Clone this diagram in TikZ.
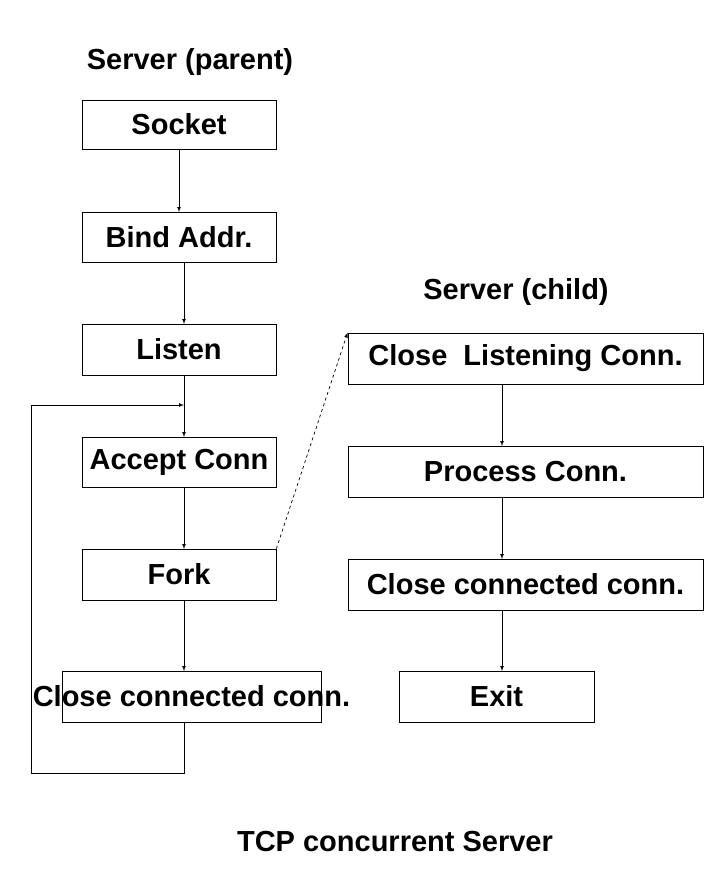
\documentclass[tikz,border=0pt]{standalone}
\usepackage{fontspec}
\setmainfont{Liberation Sans}
\begin{document}
\begin{tikzpicture}[x=1pt,y=-1pt,
  box/.style={draw,line width=0.8pt,inner sep=0pt},
  lbl/.style={font=\bfseries\fontsize{29}{32}\selectfont},
  arr/.style={-latex,line width=0.7pt}]
\useasboundingbox (0,0) rectangle (715,870);
\newcommand{\bx}[6]{\node[box,minimum width=#4-#2,minimum height=#5-#3] (#1) at ({(#2+#4)/2},{(#3+#5)/2}) {}; \node[lbl] (#1t) at (#1) {#6};}
\bx{s}{82}{100}{276}{149}{Socket}
\bx{b}{82}{212}{276}{262}{Bind Addr.}
\bx{l}{82}{324}{276}{375}{Listen}
\bx{a}{82}{437}{276}{487}{Accept Conn}
\bx{f}{82}{549}{276}{600}{Fork}
\bx{c}{62}{671}{321}{722}{Close connected conn.}
\bx{cl}{348}{333}{703}{384}{Close\ \ Listening Conn.}
\bx{p}{348}{446}{703}{497}{Process Conn.}
\bx{cc}{348}{559}{703}{610}{Close connected conn.}
\bx{e}{399}{671}{594}{722}{Exit}
\node[lbl] (t1) at (190,62) {Server (parent)};
\node[lbl] (t2) at (516,292) {Server (child)};
\node[lbl] (t3) at (395,842) {TCP concurrent Server};
\draw[arr] (179,149) -- (179,212);
\draw[arr] (184,262) -- (184,324);
\draw[arr] (184,375) -- (184,437);
\draw[arr] (184,487) -- (184,549);
\draw[arr] (184,600) -- (184,671);
\coordinate (j) at (184,405);
\draw[arr] (184,722) -- (184,773) -- (31,773) -- (31,405) -- (j);
\draw[arr,dashed] (f.north east) -- (cl.north west);
\draw[arr] (502,384) -- (502,446);
\draw[arr] (502,497) -- (502,559);
\draw[arr] (502,610) -- (502,671);
\end{tikzpicture}
\end{document}
